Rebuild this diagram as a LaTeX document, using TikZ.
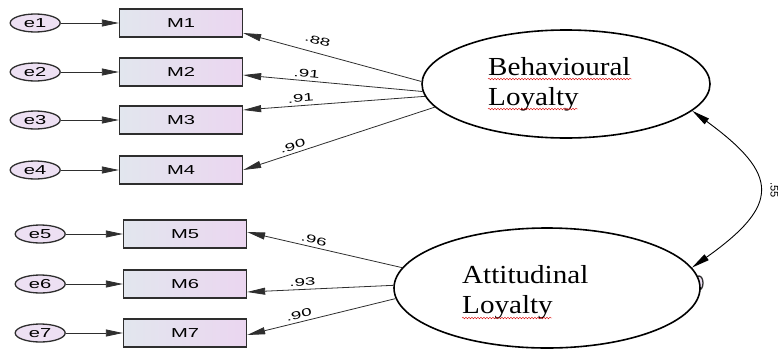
\documentclass[tikz,border=0pt]{standalone}
\usepackage{fontspec}
\setmainfont{Liberation Serif}
\setsansfont{Liberation Sans}
\usetikzlibrary{shapes,arrows,arrows.meta,positioning,decorations.pathmorphing}

\definecolor{boxleft}{HTML}{E2E6EE}
\definecolor{boxright}{HTML}{EBD6F0}
\definecolor{errfill}{HTML}{EDE0F3}
\definecolor{edgegrey}{HTML}{2E2E2E}

\newcommand{\wideM}[1]{\scalebox{1.55}[1]{#1}}
\newcommand{\wideW}[1]{\scalebox{1.7}[1]{#1}}
\newcommand{\wideF}[1]{\scalebox{1.12}[1]{#1}}

\tikzset{
	errnode/.style={ellipse, draw=edgegrey, line width=1.3pt, fill=errfill, minimum width=50pt, minimum height=18pt, inner sep=0pt, font=\sffamily\fontsize{13}{13}\selectfont},
	itembox/.style={rectangle, draw=edgegrey, line width=1.3pt, left color=boxleft, right color=boxright, minimum width=123pt, minimum height=28pt, inner sep=0pt, font=\sffamily\fontsize{13}{13}\selectfont},
	factor/.style={ellipse, draw=black, line width=1.6pt, fill=white, inner sep=0pt},
	factortext/.style={align=left, anchor=north west, inner sep=0pt, font=\fontsize{26}{30}\selectfont},
	errarrow/.style={-{Triangle[length=17pt,width=7pt]}, draw=edgegrey, line width=0.8pt},
	loadarrow/.style={-{Triangle[length=18pt,width=7pt]}, draw=edgegrey, line width=0.8pt},
	wt/.style={font=\sffamily\fontsize{11}{11}\selectfont, sloped, above, inner sep=3pt},
	typo/.style={draw=red!85!black, line width=0.4pt, decorate, decoration={snake, segment length=3pt, amplitude=0.8pt}}
}

\begin{document}
\begin{tikzpicture}[x=1pt,y=-1pt]
				\useasboundingbox (0,0) rectangle (778,351);
				\node[itembox] (M1) at (181,23) {\wideM{M1}};
				\node[itembox] (M2) at (181,72) {\wideM{M2}};
				\node[itembox] (M3) at (181,120) {\wideM{M3}};
				\node[itembox] (M4) at (181,170) {\wideM{M4}};
				\node[itembox] (M5) at (185,234) {\wideM{M5}};
				\node[itembox] (M6) at (185,284) {\wideM{M6}};
				\node[itembox] (M7) at (185,333) {\wideM{M7}};
				\node[errnode, left=58pt of M1] (e1) {\wideM{e1}};
				\node[errnode, left=58pt of M2] (e2) {\wideM{e2}};
				\node[errnode, left=58pt of M3] (e3) {\wideM{e3}};
				\node[errnode, left=58pt of M4] (e4) {\wideM{e4}};
				\node[errnode, left=57pt of M5] (e5) {\wideM{e5}};
				\node[errnode, left=57pt of M6] (e6) {\wideM{e6}};
				\node[errnode, left=57pt of M7] (e7) {\wideM{e7}};
				\draw[errarrow] (e1)--(M1);
				\draw[errarrow] (e2)--(M2);
				\draw[errarrow] (e3)--(M3);
				\draw[errarrow] (e4)--(M4);
				\draw[errarrow] (e5)--(M5);
				\draw[errarrow] (e6)--(M6);
				\draw[errarrow] (e7)--(M7);
				\node[errnode, minimum width=8pt, minimum height=14pt] (ALvar) at (699,283) {};
				\node[factor, minimum width=288pt, minimum height=108pt] (BL) at (566,84) {};
				\node[factor, minimum width=306pt, minimum height=120pt] (AL) at (547,288) {};
				\node[factortext] (BLtext) at (488,57) {\wideF{Behavioural}\\\wideF{Loyalty}};
				\node[factortext] (ALtext) at (462,265) {\wideF{Attitudinal}\\\wideF{Loyalty}};
				\draw[typo] (488,79)--(632,79);
				\draw[typo] (488,109)--(578,109);
				\draw[typo] (462,318)--(552,318);
				\path (M1.east) ++(0,10) coordinate (M1in);
				\path (M2.east) ++(0,3) coordinate (M2in);
				\path (M3.east) ++(0,-10) coordinate (M3in);
				\path (M4.east) coordinate (M4in);
				\path (M5.east) ++(0,-2) coordinate (M5in);
				\path (M6.east) ++(0,8) coordinate (M6in);
				\path (M7.east) ++(0,2) coordinate (M7in);
				\draw[loadarrow] (BL.179)--(M1in) node[wt, pos=0.6, inner sep=8pt] {\wideW{.88}};
				\draw[loadarrow] (BL.183)--(M2in) node[wt, pos=0.65] {\wideW{.91}};
				\draw[loadarrow] (BL.185.5)--(M3in) node[wt, pos=0.68] {\wideW{.91}};
				\draw[loadarrow] (BL.190)--(M4in) node[wt, pos=0.73] {\wideW{.90}};
				\draw[loadarrow] (AL.172)--(M5in) node[wt, pos=0.58] {\wideW{.96}};
				\draw[loadarrow] (AL.179)--(M6in) node[wt, pos=0.62] {\wideW{.93}};
				\draw[loadarrow] (AL.184.5)--(M7in) node[wt, pos=0.64] {\wideW{.90}};
				\draw[{Triangle[length=18pt,width=7pt]}-{Triangle[length=18pt,width=7pt]}, draw=black, line width=0.9pt] (BL.-12) .. controls (780,175) and (780,205) .. (AL.8) node[pos=0.5, anchor=south, rotate=-90, inner sep=12pt, font=\sffamily\fontsize{11}{11}\selectfont] (corr) {.55};
\end{tikzpicture}
\end{document}
